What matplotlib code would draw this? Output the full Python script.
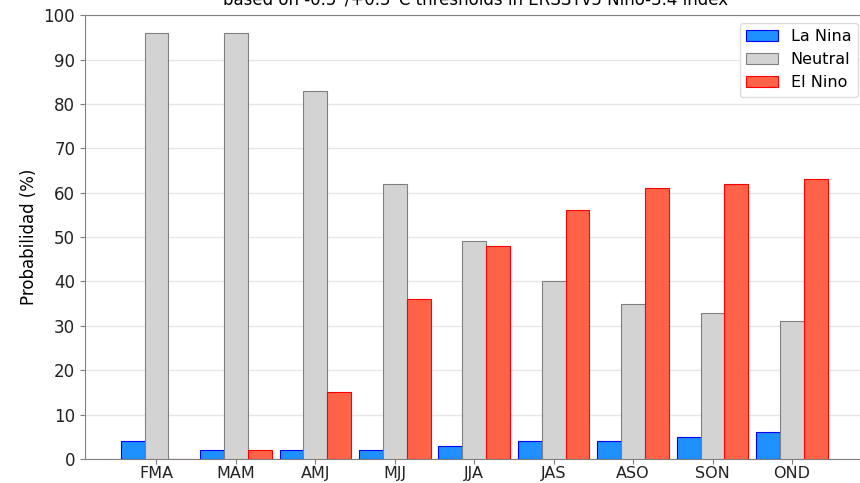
import numpy as np
import matplotlib
matplotlib.use("Agg")
import matplotlib.pyplot as plt

seasons = ["FMA", "MAM", "AMJ", "MJJ", "JJA", "JAS", "ASO", "SON", "OND"]
la_nina = [4, 2, 2, 2, 3, 4, 4, 5, 6]
neutral = [96, 96, 83, 62, 49, 40, 35, 33, 31]
el_nino = [0, 2, 15, 36, 48, 56, 61, 62, 63]

fig = plt.figure(figsize=(8.6, 4.83), dpi=100)
ax = fig.add_axes([0.0988, 0.0497, 0.908, 0.919])

x = np.arange(len(seasons))
w = 0.3
ax.bar(x - w, la_nina, w, color='#1E90FF', edgecolor='blue', linewidth=0.8, label='La Nina', zorder=3)
ax.bar(x, neutral, w, color='lightgray', edgecolor='gray', linewidth=0.8, label='Neutral', zorder=3)
ax.bar(x + w, el_nino, w, color='tomato', edgecolor='red', linewidth=0.8, label='El Nino', zorder=3)

ax.set_xticks(x)
ax.set_xticklabels(seasons, fontsize=11.5)
ax.set_yticks(range(0, 101, 10))
ax.tick_params(axis='y', labelsize=12, colors='#222222', color='gray')
ax.tick_params(axis='x', colors='#222222', color='gray', pad=1.5)
ax.set_xlim(-0.9, 8.93)
ax.set_ylim(0, 100)
ax.set_ylabel('Probabilidad (%)', fontsize=12)
ax.yaxis.grid(True, color='#e6e6e6', linewidth=1, zorder=0)
for s in ax.spines.values():
    s.set_color('gray')
ax.set_title('based on -0.5°/+0.5°C thresholds in ERSSTv5 Nino-3.4 index', fontsize=12, pad=8)
ax.legend(loc='upper right', fontsize=11.5, framealpha=1, edgecolor='#dddddd')

plt.savefig('out.png', dpi=100)
